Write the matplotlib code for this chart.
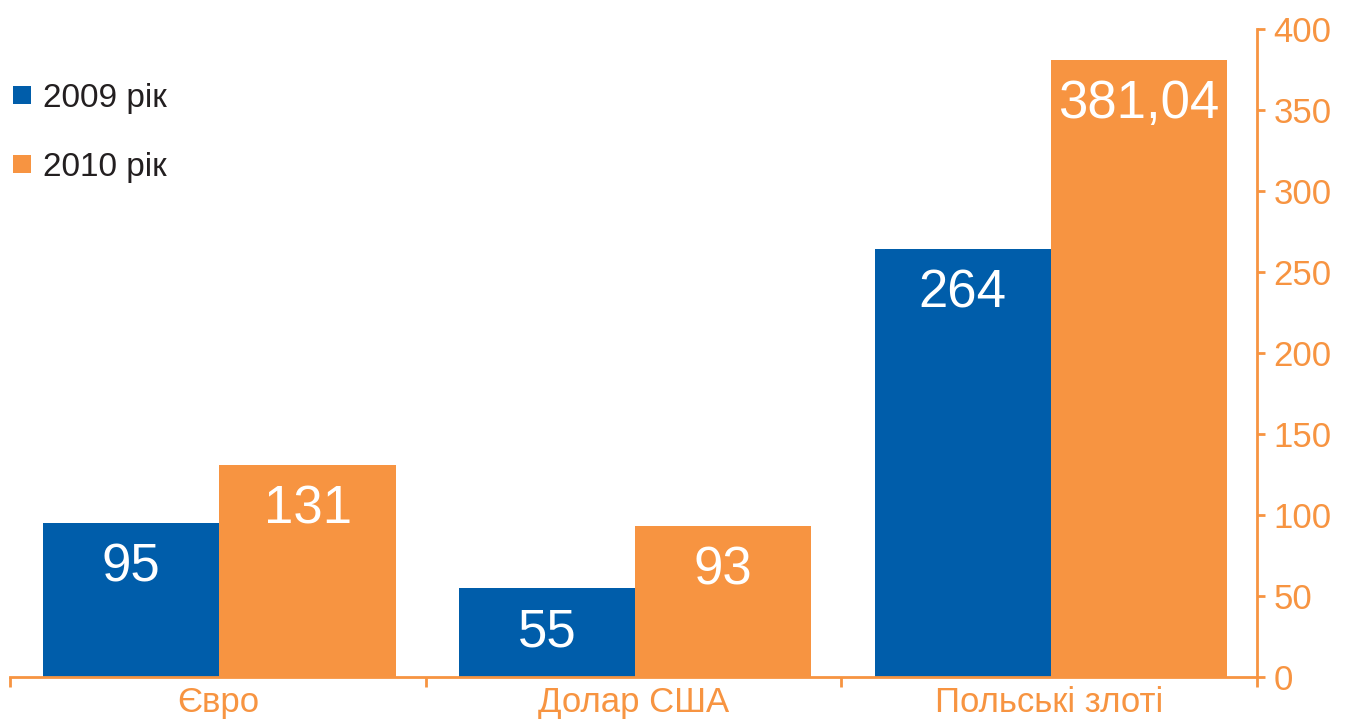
import matplotlib
matplotlib.use("Agg")
import matplotlib.pyplot as plt
import matplotlib.patches as mpatches
import numpy as np

# data
categories = ["Євро", "Долар США", "Польські злоті"]
series     = ["2009 рік", "2010 рік"]
values     = [[95, 55, 264],
              [131, 93, 381.04]]
labels     = [["95", "55", "264"],
              ["131", "93", "381,04"]]
yticks     = [0, 50, 100, 150, 200, 250, 300, 350, 400]

BLUE   = "#005DAA"
ORANGE = "#F79441"
DARK   = "#231F20"
colors = [BLUE, ORANGE]

plt.rcParams["font.family"] = ["Liberation Sans", "DejaVu Sans"]

fig = plt.figure(figsize=(13.48, 7.2), dpi=100)
ax  = fig.add_axes((0.0074, 0.0601, 0.9251, 0.8996))

x      = np.arange(len(categories))
width  = 0.424
offset = [-0.208, 0.216]

for s in range(len(series)):
    bars = ax.bar(x + offset[s], values[s], width, color=colors[s], linewidth=0)
    for b, txt in zip(bars, labels[s]):
        ax.annotate(txt, (b.get_x() + b.get_width() / 2, b.get_height()),
                    xytext=(0, -14), textcoords="offset points",
                    ha="center", va="top", color="white", fontsize=38)

ax.set_xlim(-0.5, 2.5)
ax.set_ylim(0, 400)

# spines
for side in ["top", "left"]:
    ax.spines[side].set_visible(False)
for side in ["bottom", "right"]:
    ax.spines[side].set_color(ORANGE)
    ax.spines[side].set_linewidth(2)

# y axis on the right
ax.yaxis.tick_right()
ax.set_yticks(yticks)
ax.tick_params(axis="y", which="major", direction="out", length=6, width=2,
               color=ORANGE, labelcolor=ORANGE, labelsize=25, pad=6)

# x: boundary ticks, labels in the middle
ax.set_xticks([-0.5, 0.5, 1.5, 2.5])
ax.set_xticklabels([])
ax.set_xticks(x, minor=True)
ax.set_xticklabels(categories, minor=True)
ax.tick_params(axis="x", which="major", direction="out", length=7, width=2, color=ORANGE)
ax.tick_params(axis="x", which="minor", length=0, labelcolor=ORANGE, labelsize=25, pad=7)

# legend (drawn by hand, top left)
for s in range(len(series)):
    yc = 1 - (95 + s * 69) / 720
    fig.patches.append(mpatches.Rectangle((13 / 1348, yc - 9 / 720), 18 / 1348, 18 / 720,
                                          transform=fig.transFigure, color=colors[s],
                                          linewidth=0))
    fig.text(43 / 1348, yc, series[s], ha="left", va="center_baseline",
             fontsize=24, color=DARK)

fig.savefig("out.png", dpi=100)
